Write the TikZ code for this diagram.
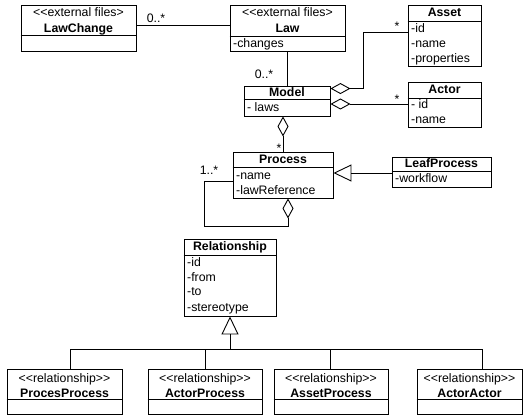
\documentclass[tikz,border=0pt]{standalone}
\usepackage{fontspec}
\setmainfont{Liberation Sans}
\usetikzlibrary{arrows.meta}
\newcommand\stl{<\kern0pt<}
\newcommand\str{>\kern0pt>}
\newcommand\umlbox[6]{%
  \node[cls, minimum width={#4-#2}, minimum height={#5-#3}] (#1) at ({(#2+#4)/2},{(#3+#5)/2}) {};
  \draw[line width=0.9pt] (#1.west |- 0,#6) -- (#1.east |- 0,#6);
}
\begin{document}
\begin{tikzpicture}[x=1pt,y=-1pt,
  font=\fontsize{12.3}{15}\selectfont,
  cls/.style={draw, line width=0.9pt, inner sep=0pt, fill=white},
  txt/.style={inner sep=0pt, text height=10pt, text depth=2pt},
  attr/.style={txt, anchor=west},
  title/.style={txt, font=\fontsize{12.3}{15}\selectfont\bfseries},
  conn/.style={draw, line width=0.9pt},
  agg/.style={conn, {Diamond[open,length=20pt,width=11pt]}-},
  gen/.style={conn, -{Triangle[open,length=18pt,width=17pt]}},
]
\useasboundingbox[fill=white] (0,0) rectangle (523,417);

% classes
\umlbox{lawchange}{21}{5}{136}{51}{35}
\node[txt] (lawchange-s) at (78.5,13) {\stl external files>};
\node[title] (lawchange-n) at (78.5,29) {LawChange};

\umlbox{law}{230}{5}{345}{51}{36}
\node[txt] (law-s) at (287.5,13) {\stl external files>};
\node[title] (law-n) at (287.5,29) {Law};
\node[attr] (law-a1) at (233,44) {-changes};

\umlbox{asset}{408}{5}{481}{66}{21}
\node[title] (asset-n) at (444.5,13) {Asset};
\node[attr] (asset-a1) at (411,29) {-id};
\node[attr] (asset-a2) at (411,44) {-name};
\node[attr] (asset-a3) at (411,59) {-properties};

\umlbox{actor}{408}{82}{481}{127}{98}
\node[title] (actor-n) at (444.5,90) {Actor};
\node[attr] (actor-a1) at (411,105) {- id};
\node[attr] (actor-a2) at (411,120) {-name};

\umlbox{model}{244}{86}{330}{116}{99}
\node[title] (model-n) at (287,93) {Model};
\node[attr] (model-a1) at (247,108) {- laws};

\umlbox{process}{233}{152}{333}{198}{167}
\node[title] (process-n) at (283,160) {Process};
\node[attr] (process-a1) at (236,176) {-name};
\node[attr] (process-a2) at (236,191) {-lawReference};

\umlbox{leafprocess}{392}{157}{491}{187}{171}
\node[title] (leafprocess-n) at (441.5,164) {LeafProcess};
\node[attr] (leafprocess-a1) at (395,179) {-workflow};

\umlbox{relationship}{184}{239}{276}{316}{255}
\node[title] (relationship-n) at (230,247) {Relationship};
\node[attr] (relationship-a1) at (187,263) {-id};
\node[attr] (relationship-a2) at (187,278) {-from};
\node[attr] (relationship-a3) at (187,292) {-to};
\node[attr] (relationship-a4) at (187,308) {-stereotype};

\umlbox{pp}{7}{369}{122}{414}{399}
\node[txt] (pp-s) at (64.5,378) {\stl relationship\str};
\node[title] (pp-n) at (64.5,393) {ProcesProcess};

\umlbox{ap}{148}{369}{262}{414}{399}
\node[txt] (ap-s) at (205,378) {\stl relationship\str};
\node[title] (ap-n) at (205,393) {ActorProcess};

\umlbox{asp}{274}{369}{388}{414}{399}
\node[txt] (asp-s) at (331,378) {\stl relationship\str};
\node[title] (asp-n) at (331,393) {AssetProcess};

\umlbox{aa}{417}{369}{522}{414}{399}
\node[txt] (aa-s) at (469.5,378) {\stl relationship\str};
\node[title] (aa-n) at (469.5,393) {ActorActor};

% connectors
\draw[conn] (lawchange.east |- 0,25) -- (law.west |- 0,25);
\node[txt] (lbl-lc) at (156,19) {0..*};

\draw[conn] (law.south) -- (law.south |- model.north);
\node[txt] (lbl-law) at (264,75) {0..*};

\draw[agg] ([yshift=-3pt]model.north east) -- ++(33,0) |- (asset.west |- 0,32);
\node[txt] (lbl-asset) at (397,27) {*};

\draw[agg] ([yshift=-3pt]model.east) -- ([yshift=-3pt]model.east -| actor.west);
\node[txt] (lbl-actor) at (397,100) {*};

\draw[agg] ([xshift=-4pt]model.south) -- ([xshift=-4pt]model.south |- process.north);
\node[txt] (lbl-proc) at (279,149) {*};

\draw[gen] (leafprocess.west |- 0,173) -- (process.east |- 0,173);

\coordinate (loopc) at (204,181);
\draw[agg] ([xshift=5pt]process.south) -- ++(0,28) -| (loopc) -- (process.west |- loopc);
\node[txt] (lbl-loop) at (209,171) {1..*};

\coordinate (bus) at (229,349);
\draw[gen] (relationship.south |- bus) -- (relationship.south);
\coordinate (d1) at ([xshift=5.5pt]pp.north);
\coordinate (d4) at ([xshift=12.5pt]aa.north);
\draw[conn] (d1) |- (d4 |- bus) -- (d4);
\draw[conn] (ap.north) -- (ap.north |- bus);
\draw[conn] ([xshift=-1pt]asp.north) -- ([xshift=-1pt]asp.north |- bus);
\end{tikzpicture}
\end{document}
